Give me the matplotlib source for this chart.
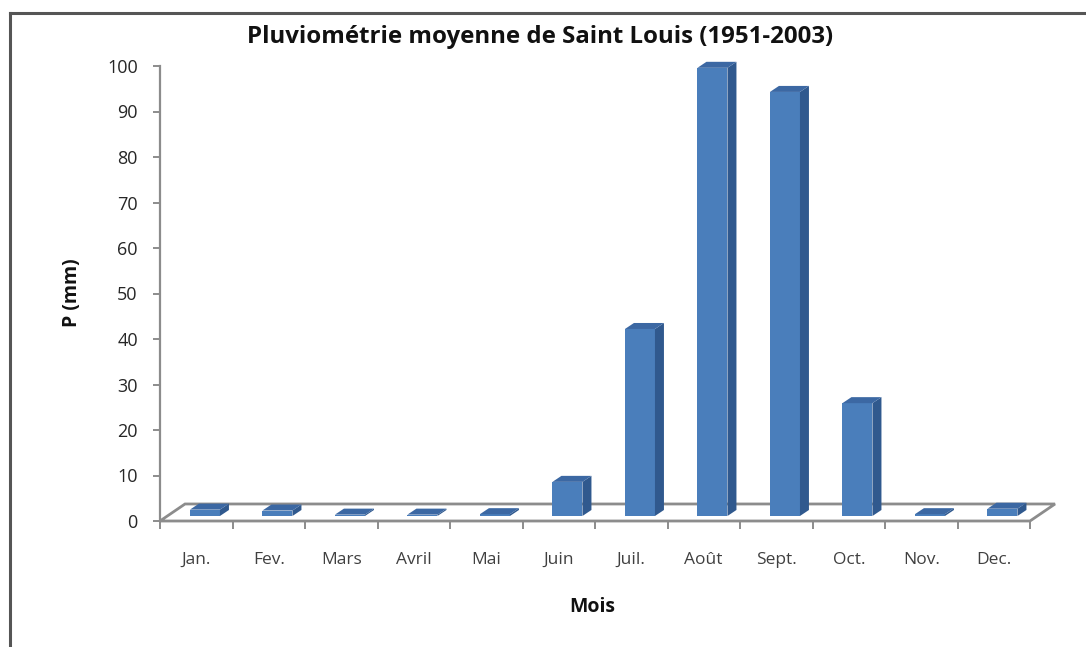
import matplotlib
matplotlib.use("Agg")
import matplotlib.pyplot as plt
from matplotlib.patches import Polygon
from matplotlib.lines import Line2D

plt.rcParams['font.family'] = ['Open Sans', 'DejaVu Sans']

months = ["Jan.", "Fev.", "Mars", "Avril", "Mai", "Juin", "Juil.", "Août",
          "Sept.", "Oct.", "Nov.", "Dec."]
rain_mm = [1.4, 1.2, 0.3, 0.3, 0.4, 7.5, 41.1, 98.5, 93.2, 24.8, 0.4, 1.6]
y_ticks = list(range(0, 101, 10))

title = "Pluviométrie moyenne de Saint Louis (1951-2003)"
x_label = "Mois"
y_label = "P (mm)"

W, H = 1086, 647
fig = plt.figure(figsize=(W / 100, H / 100), dpi=100)
fig.patch.set_facecolor("white")

# axes: x 0..12 -> px 160..1030, y 0..100 -> px 521..66
ax = fig.add_axes([160 / W, (H - 521) / H, 870 / W, 455 / H])
ax.set_xlim(0, 12)
ax.set_ylim(0, 100)
ax.set_facecolor("none")

grey = "#8c8c8c"
for s in ("top", "right", "bottom"):
    ax.spines[s].set_visible(False)
ax.spines["left"].set_color(grey)
ax.spines["left"].set_linewidth(1.6)

# floor (3D base)
fdx, fdy = 0.345, 3.74
floor = Polygon([(0, 0), (fdx, fdy), (12 + fdx, fdy), (12, 0)], closed=True,
                facecolor="white", edgecolor=grey, linewidth=2.0,
                clip_on=False, zorder=1)
ax.add_patch(floor)

# bars
bw = 0.414
bdx, bdy = 0.124, 1.32
off_x, off_y = 0.12, 1.1
c_front, c_side, c_top = "#4a7ebb", "#30598e", "#3c68a3"
for i, v in enumerate(rain_mm):
    x0 = i + 0.5 + off_x - bw / 2
    x1 = x0 + bw
    y0 = off_y
    y1 = off_y + v
    front = Polygon([(x0, y0), (x1, y0), (x1, y1), (x0, y1)], closed=True,
                    facecolor=c_front, edgecolor="none", clip_on=False, zorder=3)
    side = Polygon([(x1, y0), (x1 + bdx, y0 + bdy), (x1 + bdx, y1 + bdy), (x1, y1)],
                   closed=True, facecolor=c_side, edgecolor="none",
                   clip_on=False, zorder=3)
    top = Polygon([(x0, y1), (x1, y1), (x1 + bdx, y1 + bdy), (x0 + bdx, y1 + bdy)],
                  closed=True, facecolor=c_top, edgecolor="none",
                  clip_on=False, zorder=3)
    for p in (front, side, top):
        ax.add_patch(p)

# ticks
ax.set_yticks(y_ticks)
ax.set_yticklabels([str(t) for t in y_ticks])
ax.tick_params(axis="y", direction="out", length=5, width=1.4, color=grey,
               pad=11, labelsize=13, labelcolor="#262626")
ax.set_xticks(range(13))
ax.set_xticklabels([""] * 13)
ax.set_xticks([i + 0.5 for i in range(12)], minor=True)
ax.set_xticklabels(months, minor=True)
ax.tick_params(axis="x", which="major", direction="out", length=6, width=1.4,
               color=grey)
ax.tick_params(axis="x", which="minor", length=0, pad=22, labelsize=12.5,
               labelcolor="#404040")

# texts
fig.text(540 / W, 1 - 37 / H, title, ha="center", va="center",
         fontsize=17.3, fontweight="bold", color="#111111")
fig.text(592 / W, 1 - 607 / H, x_label, ha="center", va="center",
         fontsize=14, fontweight="bold", color="#111111")
fig.text(72 / W, 1 - 293 / H, y_label, ha="center", va="center",
         rotation=90, fontsize=14, fontweight="bold", color="#111111")

# outer frame
fig.add_artist(Line2D([10 / W, 10 / W], [1 - 13 / H, 0], transform=fig.transFigure,
                      color="#555555", linewidth=2.2))
fig.add_artist(Line2D([10 / W, 1], [1 - 13 / H, 1 - 13 / H], transform=fig.transFigure,
                      color="#555555", linewidth=2.2))

fig.savefig("out.png", dpi=100)
